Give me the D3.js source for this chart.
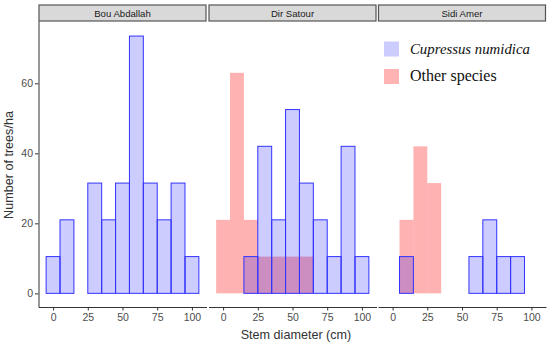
<!DOCTYPE html>
<html>
<head>
<meta charset="utf-8">
<script src="https://cdn.jsdelivr.net/npm/d3@7"></script>
<style>
  body { margin: 0; background: #fff; }
  .axis text { font-family: "Liberation Sans", Arial, sans-serif; font-size: 10.5px; fill: #4d4d4d; }
  .axis line, .axis path { stroke: #333; }
</style>
</head>
<body>
<div id="chart"></div>
<script>
// diameter classes (bin centres, cm)
var bins = [0, 10, 20, 30, 40, 50, 60, 70, 80, 90, 100];
var sites = ["Bou Abdallah", "Dir Satour", "Sidi Amer"];
// trees/ha per class, Cupressus numidica
var cupBou = [10.5, 21, 0, 31.5, 21, 31.5, 73.5, 31.5, 21, 31.5, 10.5];
var cupDir = [0, 0, 10.5, 42, 21, 52.5, 31.5, 21, 10.5, 42, 10.5];
var cupSidi = [0, 10.5, 0, 0, 0, 0, 10.5, 21, 10.5, 10.5, 0];
// trees/ha per class, other species
var othBou = [0, 0, 0, 0, 0, 0, 0, 0, 0, 0, 0];
var othDir = [21, 63, 21, 10.5, 10.5, 10.5, 10.5, 0, 0, 0, 0];
var othSidi = [0, 21, 42, 31.5, 0, 0, 0, 0, 0, 0, 0];
var xTicks = [0, 25, 50, 75, 100];
var yTicks = [0, 20, 40, 60];

var cup = [cupBou, cupDir, cupSidi];
var oth = [othBou, othDir, othSidi];

var width = 550, height = 346;
var panelLeft = [38.5, 208.5, 378], panelW = 168;
var plotTop = 21, plotBottom = 307;

var svg = d3.select("#chart").append("svg").attr("width", width).attr("height", height);

var x = d3.scaleLinear().domain([-10.5, 110.5]).range([0, panelW]);
var y = d3.scaleLinear().domain([-3.9, 77.8]).range([plotBottom, plotTop]);

sites.forEach(function(site, i) {
    var g = svg.append("g").attr("transform", "translate(" + panelLeft[i] + ",0)");

    // strip
    g.append("rect").attr("x", 0.5).attr("y", 5).attr("width", panelW - 1).attr("height", 16)
        .attr("fill", "#d9d9d9").attr("stroke", "#555").attr("stroke-width", 1.2);
    g.append("text").attr("x", panelW / 2).attr("y", 16.8).attr("text-anchor", "middle")
        .style("font-family", "Liberation Sans, Arial, sans-serif").style("font-size", "9.6px")
        .attr("fill", "#1a1a1a").text(site);

    // other species first
    g.selectAll(".oth").data(bins.map(function(b, j) { return {b: b, v: oth[i][j]}; }).filter(function(d) { return d.v > 0; }))
        .enter().append("rect").attr("class", "oth")
        .attr("x", function(d) { return x(d.b - 5); })
        .attr("width", function(d) { return x(d.b + 5) - x(d.b - 5); })
        .attr("y", function(d) { return y(d.v); })
        .attr("height", function(d) { return y(0) - y(d.v); })
        .attr("fill", "rgba(255,0,0,0.3)");

    g.selectAll(".cup").data(bins.map(function(b, j) { return {b: b, v: cup[i][j]}; }).filter(function(d) { return d.v > 0; }))
        .enter().append("rect").attr("class", "cup")
        .attr("x", function(d) { return x(d.b - 5); })
        .attr("width", function(d) { return x(d.b + 5) - x(d.b - 5); })
        .attr("y", function(d) { return y(d.v); })
        .attr("height", function(d) { return y(0) - y(d.v); })
        .attr("fill", "rgba(0,0,255,0.2)").attr("stroke", "#3333ff").attr("stroke-width", 1);

    g.append("g").attr("class", "axis").attr("transform", "translate(0," + plotBottom + ")")
        .call(d3.axisBottom(x).tickValues(xTicks).tickSize(3.5).tickSizeOuter(0).tickPadding(3));

    if (i == 0) {
        g.append("g").attr("class", "axis")
            .call(d3.axisLeft(y).tickValues(yTicks).tickSize(3.5).tickSizeOuter(0).tickPadding(2));
    }
});

// axis titles
svg.append("text").attr("x", 296).attr("y", 338.5).attr("text-anchor", "middle")
    .style("font-family", "Liberation Sans, Arial, sans-serif").style("font-size", "12.6px")
    .attr("fill", "#333").text("Stem diameter (cm)");
svg.append("text").attr("transform", "translate(12.5,165) rotate(-90)").attr("text-anchor", "middle")
    .style("font-family", "Liberation Sans, Arial, sans-serif").style("font-size", "12.6px")
    .attr("fill", "#333").text("Number of trees/ha");

// legend
var legend = svg.append("g");
legend.append("rect").attr("x", 384).attr("y", 41.5).attr("width", 15).attr("height", 15).attr("fill", "#ccccff");
legend.append("rect").attr("x", 384).attr("y", 69).attr("width", 15).attr("height", 15).attr("fill", "#ffb3b3");
legend.append("text").attr("x", 410).attr("y", 54).style("font-family", "Liberation Serif, serif")
    .style("font-size", "14.8px").style("font-style", "italic").attr("fill", "#111").text("Cupressus numidica");
legend.append("text").attr("x", 410).attr("y", 81).style("font-family", "Liberation Serif, serif")
    .style("font-size", "16px").attr("fill", "#111").text("Other species");
</script>
</body>
</html>
